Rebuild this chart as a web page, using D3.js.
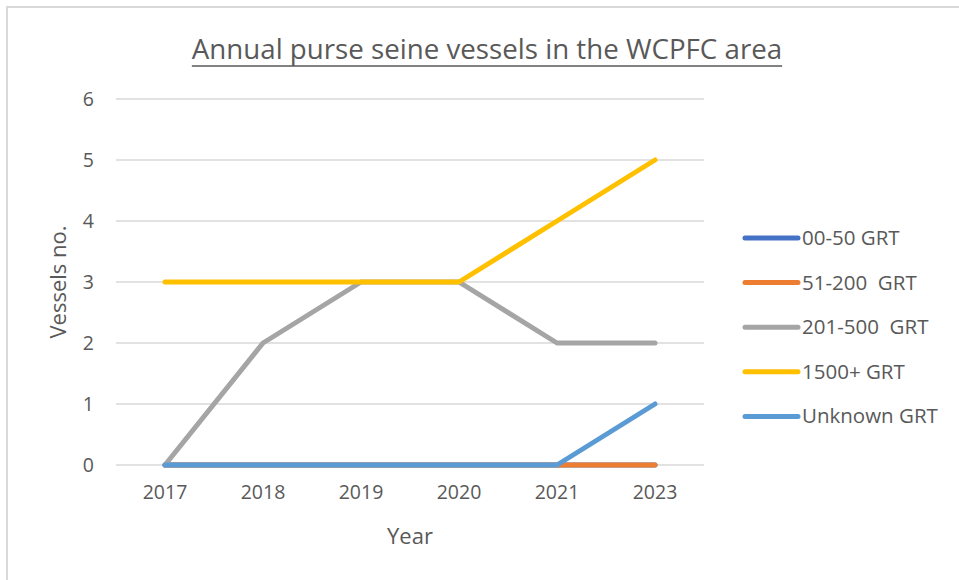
<!DOCTYPE html>
<html lang="en">
<head>
	<meta charset="utf-8">
	<title>Annual purse seine vessels</title>
	<style>
		body {
			margin: 0;
			background: #fff;
		}
		svg text {
			font-family: "Open Sans", sans-serif;
			fill: #595959;
		}
		.grid line {
			stroke: #d9d9d9;
			stroke-width: 1.3px;
		}
	</style>
</head>
<body>
	<svg></svg>
	<script src="https://d3js.org/d3.v7.min.js"></script>
	<script>
		// chart data
		var years = ["2017", "2018", "2019", "2020", "2021", "2023"];
		var seriesNames = ["00-50 GRT", "51-200  GRT", "201-500  GRT", "1500+ GRT", "Unknown GRT"];
		var seriesColors = ["#4472c4", "#ed7d31", "#a5a5a5", "#ffc000", "#5b9bd5"];
		var grt0050 = [0, 0, 0, 0, 0, 0];
		var grt51200 = [0, 0, 0, 0, 0, 0];
		var grt201500 = [0, 2, 3, 3, 2, 2];
		var grt1500 = [3, 3, 3, 3, 4, 5];
		var grtUnknown = [0, 0, 0, 0, 0, 1];
		var yTicks = [0, 1, 2, 3, 4, 5, 6];

		var seriesValues = [grt0050, grt51200, grt201500, grt1500, grtUnknown];

		var width = 959,
			height = 580;

		var svg = d3.select("svg")
			.attr("width", width)
			.attr("height", height);

		// frame (top and left edges only show)
		svg.append("line")
			.attr("x1", 6).attr("x2", width)
			.attr("y1", 7).attr("y2", 7)
			.attr("stroke", "#d9d9d9").attr("stroke-width", 2);
		svg.append("line")
			.attr("x1", 7).attr("x2", 7)
			.attr("y1", 6).attr("y2", height)
			.attr("stroke", "#d9d9d9").attr("stroke-width", 2);

		var x = d3.scaleBand()
			.domain(years)
			.range([116, 704]);

		var y = d3.scaleLinear()
			.domain([0, 6])
			.range([465, 99]);

		// gridlines
		svg.append("g")
			.attr("class", "grid")
			.selectAll("line")
			.data(yTicks)
			.enter().append("line")
			.attr("x1", 116)
			.attr("x2", 704)
			.attr("y1", function(d) { return y(d); })
			.attr("y2", function(d) { return y(d); });

		// y axis
		var yAxis = svg.append("g")
			.attr("transform", "translate(116,0)")
			.call(d3.axisLeft(y).tickValues(yTicks).tickFormat(d3.format("d")).tickSize(0).tickPadding(22));
		yAxis.select(".domain").remove();
		yAxis.attr("font-family", null).attr("font-size", null);
		yAxis.selectAll("text")
			.style("font-size", "19.5px")
			.attr("fill", "#595959");

		// x axis
		var xAxis = svg.append("g")
			.attr("transform", "translate(0,465)")
			.call(d3.axisBottom(x).tickSize(0).tickPadding(20));
		xAxis.select(".domain").remove();
		xAxis.attr("font-family", null).attr("font-size", null);
		xAxis.selectAll("text")
			.style("font-size", "19.5px")
			.attr("fill", "#595959");

		// titles
		var title = svg.append("text")
			.attr("x", 487)
			.attr("y", 59)
			.attr("text-anchor", "middle")
			.style("font-size", "27.7px")
			.text("Annual purse seine vessels in the WCPFC area");
		var tb = title.node().getBBox();
		svg.append("line")
			.attr("x1", tb.x).attr("x2", tb.x + tb.width)
			.attr("y1", 66).attr("y2", 66)
			.attr("stroke", "#595959").attr("stroke-width", 1.5);

		svg.append("text")
			.attr("x", 410)
			.attr("y", 544)
			.attr("text-anchor", "middle")
			.style("font-size", "22px")
			.text("Year");

		svg.append("text")
			.attr("transform", "translate(66,282) rotate(-90)")
			.attr("text-anchor", "middle")
			.style("font-size", "22px")
			.text("Vessels no.");

		// lines
		var line = d3.line()
			.x(function(d, i) { return x(years[i]) + x.bandwidth() / 2; })
			.y(function(d) { return y(d); });

		svg.append("g")
			.selectAll("path")
			.data(seriesValues)
			.enter().append("path")
			.attr("d", function(d) { return line(d); })
			.attr("fill", "none")
			.attr("stroke", function(d, i) { return seriesColors[i]; })
			.attr("stroke-width", 5)
			.attr("stroke-linecap", "round")
			.attr("stroke-linejoin", "round");

		// legend
		var legend = svg.append("g")
			.selectAll("g")
			.data(seriesNames)
			.enter().append("g")
			.attr("transform", function(d, i) { return "translate(743," + (238 + i * 44.6) + ")"; });

		legend.append("line")
			.attr("x1", 2).attr("x2", 55)
			.attr("y1", 0).attr("y2", 0)
			.attr("stroke", function(d, i) { return seriesColors[i]; })
			.attr("stroke-width", 5)
			.attr("stroke-linecap", "round");

		legend.append("text")
			.attr("x", 59)
			.attr("y", 7)
			.style("font-size", "20.5px")
			.style("white-space", "pre")
			.attr("xml:space", "preserve")
			.text(function(d) { return d; });
	</script>
</body>
</html>
